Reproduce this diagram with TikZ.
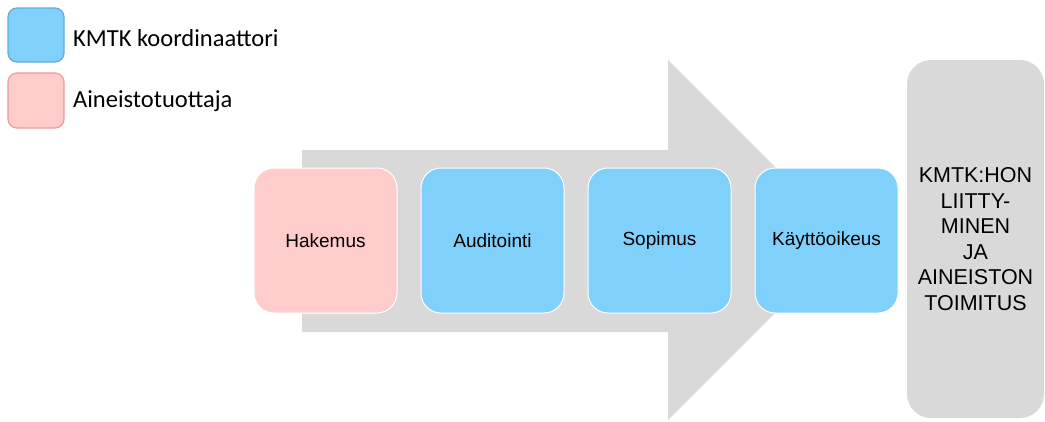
\documentclass[tikz,border=0pt]{standalone}
\usepackage{fontspec}
\setmainfont{Liberation Sans}
\newfontfamily\legendfont{Carlito}
\definecolor{kblue}{HTML}{7FD0FA}
\definecolor{kbluedark}{HTML}{5FAEDC}
\definecolor{kpink}{HTML}{FFCCCC}
\definecolor{kpinkdark}{HTML}{EE9A9A}
\definecolor{kgrey}{HTML}{D9D9D9}
\tikzset{
  legbox/.style={rounded corners=9pt, line width=1.2pt},
  legtext/.style={anchor=west, inner sep=0pt, font=\legendfont\fontsize{24.5}{28}\selectfont},
  stepbox/.style={rounded corners=20pt, draw=white, line width=1pt, minimum width=143pt, minimum height=145pt, inner sep=0pt, font=\fontsize{19}{22}\selectfont},
}
\begin{document}
\begin{tikzpicture}[x=1pt,y=-1pt]
\useasboundingbox (0,0) rectangle (1045,421);
% legend
\draw[legbox, fill=kblue, draw=kbluedark] (8,8) rectangle (64,62);
\draw[legbox, fill=kpink, draw=kpinkdark] (8,73) rectangle (64,128);
\node[legtext] (lk) at (73,38) {KMTK koordinaattori};
\node[legtext] (la) at (73,101) {Aineistotuottaja};
% big arrow
\fill[kgrey] (302,150) -- (668,150) -- (668,60) -- (848,240) -- (668,420) -- (668,332) -- (302,332) -- cycle;
% steps
\node[stepbox, fill=kpink] (hak) at (325.5,240.5) {Hakemus};
\node[stepbox, fill=kblue] (aud) at (492.5,240.5) {Auditointi};
\node[stepbox, fill=kblue] (sop) at (659.5,240.5) {Sopimus};
\node[stepbox, fill=kblue] (kay) at (826.5,240.5) {Käyttöoikeus};
% final box
\node[fill=kgrey, rounded corners=24pt, minimum width=137pt, minimum height=358pt, inner sep=0pt,
      align=center, font=\fontsize{21.5}{25.6}\selectfont] (fin) at (975.5,239)
  {KMTK:HON\\LIITTY-\\MINEN\\JA\\AINEISTON\\TOIMITUS};
\end{tikzpicture}
\end{document}
